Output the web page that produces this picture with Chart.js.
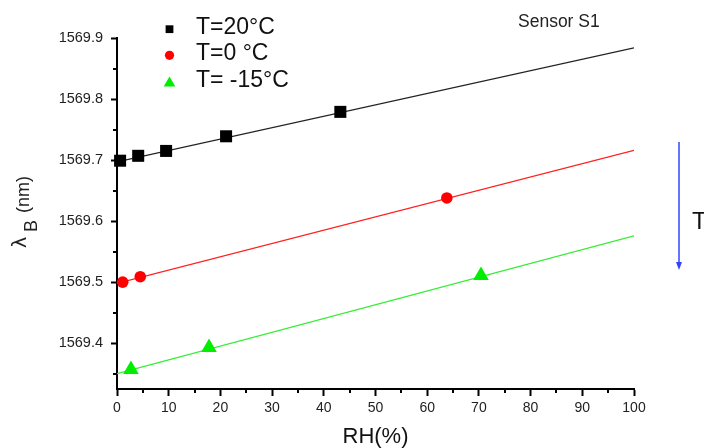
<!DOCTYPE html>
<html>
<head>
<meta charset="utf-8">
<script src="https://cdn.jsdelivr.net/npm/chart.js@4/dist/chart.umd.min.js"></script>
<style>
  html, body { margin: 0; padding: 0; background: #fff; }
  #wrap { width: 704px; height: 448px; }
</style>
</head>
<body>
<div id="wrap"><canvas id="chart" width="704" height="448"></canvas></div>
<script>
// measured points: RH (%) and Bragg wavelength (nm)
const rhT20 = [0.6, 4.1, 9.5, 21.1, 43.2];
const lamT20 = [1569.699, 1569.707, 1569.715, 1569.739, 1569.779];
const rhT0 = [1.1, 4.5, 63.8];
const lamT0 = [1569.500, 1569.509, 1569.638];
const rhTm15 = [2.7, 17.8, 70.4];
const lamTm15 = [1569.357, 1569.393, 1569.511];

// linear fits, given at the two ends of the RH range
const fitRH = [0, 100];
const fitT20 = [1569.697, 1569.884];
const fitT0 = [1569.498, 1569.716];
const fitTm15 = [1569.350, 1569.576];

const seriesLabels = ["T=20°C", "T=0 °C", "T= -15°C"];

// axis ticks
const xTicks = [0, 10, 20, 30, 40, 50, 60, 70, 80, 90, 100];
const xMinor = [5, 15, 25, 35, 45, 55, 65, 75, 85, 95];
const yTicks = [1569.4, 1569.5, 1569.6, 1569.7, 1569.8, 1569.9];
const yMinor = [1569.35, 1569.45, 1569.55, 1569.65, 1569.75, 1569.85];

const FONT = "'Liberation Sans', Arial, sans-serif";

function pairs(xs, ys) {
  return xs.map((x, i) => ({ x: x, y: ys[i] }));
}

// short ticks between the labelled ones
const minorTicks = {
  id: "minorTicks",
  afterDraw(chart) {
    const ctx = chart.ctx;
    const xs = chart.scales.x, ys = chart.scales.y;
    const a = chart.chartArea;
    ctx.save();
    ctx.strokeStyle = "#000";
    ctx.lineWidth = 2;
    ctx.beginPath();
    xMinor.forEach(v => {
      const px = Math.round(xs.getPixelForValue(v));
      ctx.moveTo(px, a.bottom);
      ctx.lineTo(px, a.bottom + 4);
    });
    yMinor.forEach(v => {
      const py = Math.round(ys.getPixelForValue(v));
      ctx.moveTo(a.left, py);
      ctx.lineTo(a.left - 4, py);
    });
    ctx.stroke();
    ctx.restore();
  }
};

// legend in the top left corner, taken from the point datasets
const cornerLegend = {
  id: "cornerLegend",
  afterDraw(chart) {
    const ctx = chart.ctx;
    const rows = chart.data.datasets.filter(d => d.inLegend);
    const textY = [28, 54, 81];
    const markY = [29.2, 55.3, 83.2];
    const sizes = { rect: 5.5, circle: 4.6, triangle: 6.7 };
    ctx.save();
    rows.forEach((d, i) => {
      ctx.fillStyle = d.backgroundColor;
      Chart.helpers.drawPoint(ctx, { pointStyle: d.pointStyle, radius: sizes[d.pointStyle], rotation: 0, borderWidth: 0 }, 169.5, markY[i]);
      ctx.fillStyle = "#111";
      ctx.font = "23px " + FONT;
      ctx.textAlign = "left";
      ctx.textBaseline = "middle";
      ctx.fillText(d.label, 196, textY[i]);
    });
    ctx.restore();
  }
};

// sensor name, temperature arrow and the y title with its subscript
const extras = {
  id: "extras",
  afterDraw(chart) {
    const ctx = chart.ctx;
    ctx.save();
    ctx.fillStyle = "#222";
    ctx.font = "17.5px " + FONT;
    ctx.textBaseline = "alphabetic";
    ctx.fillText("Sensor S1", 518, 27.3);

    // arrow
    ctx.strokeStyle = "#3344ff";
    ctx.fillStyle = "#3344ff";
    ctx.lineWidth = 1.5;
    ctx.beginPath();
    ctx.moveTo(679, 142);
    ctx.lineTo(679, 264);
    ctx.stroke();
    ctx.beginPath();
    ctx.moveTo(676, 262);
    ctx.lineTo(682, 262);
    ctx.lineTo(679, 270);
    ctx.closePath();
    ctx.fill();

    ctx.fillStyle = "#111";
    ctx.font = "24px " + FONT;
    ctx.fillText("T", 692, 229);

    // y title, rotated
    ctx.translate(0, 250);
    ctx.rotate(-Math.PI / 2);
    ctx.fillStyle = "#222";
    ctx.font = "19px 'DejaVu Sans', sans-serif";
    ctx.fillText("λ", 2, 26);
    ctx.font = "18px " + FONT;
    ctx.fillText("B", 18, 37);
    ctx.font = "18px " + FONT;
    ctx.fillText("(nm)", 37, 29);
    ctx.restore();
  }
};

const ctx = document.getElementById("chart").getContext("2d");

new Chart(ctx, {
  type: "scatter",
  data: {
    datasets: [
      {
        label: seriesLabels[0], inLegend: true, order: 1,
        data: pairs(rhT20, lamT20),
        pointStyle: "rect", pointRadius: 8.5, backgroundColor: "#000000", borderWidth: 0,
        showLine: false, clip: false
      },
      {
        label: seriesLabels[1], inLegend: true, order: 1,
        data: pairs(rhT0, lamT0),
        pointStyle: "circle", pointRadius: 5.8, backgroundColor: "#ff0000", borderWidth: 0,
        showLine: false, clip: false
      },
      {
        label: seriesLabels[2], inLegend: true, order: 1,
        data: pairs(rhTm15, lamTm15),
        pointStyle: "triangle", pointRadius: 9, backgroundColor: "#00ee00", borderWidth: 0,
        showLine: false, clip: false
      },
      {
        label: "fit 20", order: 2, data: pairs(fitRH, fitT20),
        showLine: true, pointRadius: 0, borderColor: "#222222", borderWidth: 1.3
      },
      {
        label: "fit 0", order: 2, data: pairs(fitRH, fitT0),
        showLine: true, pointRadius: 0, borderColor: "#ff2020", borderWidth: 1.3
      },
      {
        label: "fit -15", order: 2, data: pairs(fitRH, fitTm15),
        showLine: true, pointRadius: 0, borderColor: "#33ee33", borderWidth: 1.3
      }
    ]
  },
  options: {
    responsive: false,
    animation: false,
    devicePixelRatio: 1,
    layout: { padding: { left: 0, right: 70, top: 38, bottom: 0 } },
    plugins: {
      legend: { display: false },
      tooltip: { enabled: false }
    },
    scales: {
      x: {
        type: "linear",
        min: 0,
        max: 100,
        afterBuildTicks: s => { s.ticks = xTicks.map(v => ({ value: v })); },
        afterFit: s => { s.height = 59; },
        ticks: { font: { size: 14, family: FONT }, color: "#222", padding: 4, maxRotation: 0 },
        grid: { drawOnChartArea: false, drawTicks: true, tickLength: 7, tickWidth: 2, tickColor: "#000" },
        border: { display: true, color: "#000", width: 2 },
        title: {
          display: true, text: "RH(%)", color: "#111",
          font: { size: 22, family: FONT, lineHeight: 1 },
          padding: { top: 0, bottom: 0 }
        }
      },
      y: {
        type: "linear",
        min: 1569.325,
        max: 1569.9,
        afterBuildTicks: s => { s.ticks = yTicks.map(v => ({ value: v })); },
        afterFit: s => { s.width = 117; },
        ticks: { callback: v => v.toFixed(1), font: { size: 14.5, family: FONT }, color: "#222", padding: 8 },
        grid: { drawOnChartArea: false, drawTicks: true, tickLength: 6, tickWidth: 2, tickColor: "#000" },
        border: { display: true, color: "#000", width: 2 }
      }
    }
  },
  plugins: [minorTicks, cornerLegend, extras]
});
</script>
</body>
</html>
